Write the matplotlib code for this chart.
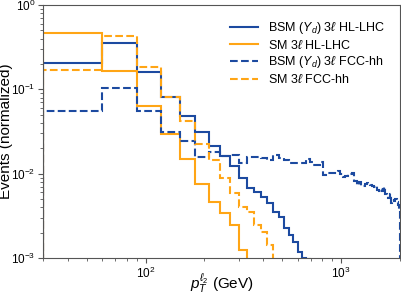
import numpy as np
import matplotlib
matplotlib.use('Agg')
import matplotlib.pyplot as plt

plt.rcParams['font.family'] = ['Liberation Sans', 'DejaVu Sans']
plt.rcParams['mathtext.fontset'] = 'custom'
plt.rcParams['mathtext.rm'] = 'Liberation Sans'
plt.rcParams['mathtext.it'] = 'Liberation Sans:italic'
plt.rcParams['mathtext.bf'] = 'Liberation Sans:bold'

# bins of 30 GeV starting at 30 GeV
bin_lo = 30
bin_w = 30
n_bins = 66

# normalised event fractions per bin
bsm_hllhc = [0.203, 0.351, 0.162, 0.082, 0.0483, 0.0315, 0.0213, 0.0162, 0.0123, 0.0090,
             0.0068, 0.0061, 0.0053, 0.00453, 0.00354, 0.00304, 0.00225, 0.00187, 0.00156, 0.00119,
             0.00101, 0.00099]
sm_hllhc = [0.46, 0.165, 0.0634, 0.0293, 0.0149, 0.00754, 0.00465, 0.00339, 0.00246, 0.00125]
sm_fcc = [0.169, 0.433, 0.186, 0.082, 0.042, 0.0227, 0.0145, 0.0088, 0.00585, 0.0040,
          0.00354, 0.00246, 0.00205, 0.00143]
bsm_fcc = [0.0553, 0.103, 0.0553, 0.031, 0.0244, 0.0157, 0.0182, 0.0162, 0.0166, 0.0135,
           0.0160, 0.0160, 0.0155, 0.0145, 0.0166, 0.0152, 0.0146, 0.0135, 0.0133, 0.0133,
           0.0133, 0.0148, 0.0139, 0.0127, 0.0127, 0.0139, 0.0096, 0.0103, 0.0103, 0.0101,
           0.0103, 0.0108, 0.0100, 0.0092, 0.0094, 0.0099, 0.0099, 0.0102, 0.0082, 0.0074,
           0.0080, 0.0072, 0.0071, 0.0076, 0.0077, 0.0075, 0.0073, 0.0071, 0.0070, 0.0072,
           0.0065, 0.0062, 0.0066, 0.0063, 0.0069, 0.0058, 0.0055, 0.0051, 0.0057, 0.0045,
           0.0049, 0.0047, 0.0050, 0.0046, 0.0043, 0.0038]

edges = bin_lo + bin_w * np.arange(n_bins + 1)


def pad(vals):
    out = np.zeros(n_bins)
    out[:len(vals)] = vals
    return np.clip(out, 1e-6, None)


blue = '#1c4aa0'
orange = '#ffa515'

fig = plt.figure(figsize=(4.01, 2.94), dpi=100)
ax = fig.add_axes([0.108, 0.122, 0.8895, 0.861])

ax.stairs(pad(bsm_hllhc), edges, color=blue, lw=1.5, label=r'BSM $(Y_d)$ 3$\ell$ HL-LHC')
ax.stairs(pad(sm_hllhc), edges, color=orange, lw=1.5, label=r'SM 3$\ell$ HL-LHC')
ax.stairs(pad(bsm_fcc), edges, color=blue, lw=1.5, ls='--', label=r'BSM $(Y_d)$ 3$\ell$ FCC-hh')
ax.stairs(pad(sm_fcc), edges, color=orange, lw=1.5, ls='--', label=r'SM 3$\ell$ FCC-hh')

ax.set_xscale('log')
ax.set_yscale('log')
ax.set_xlim(30, 2000)
ax.set_ylim(1e-3, 1)

ax.set_xlabel(r'$p_T^{\ell_2}$ (GeV)', fontsize=11)
ax.set_ylabel('Events (normalized)', fontsize=11)
ax.xaxis.set_label_coords(0.5, -0.058)
ax.yaxis.set_label_coords(-0.104, 0.5)
ax.yaxis.label.set_va('center')
ax.tick_params(labelsize=8.5, color='#555555', pad=2)
ax.tick_params(which='minor', color='#555555')
for s in ax.spines.values():
    s.set_color('#555555')

ax.legend(loc='upper right', frameon=False, fontsize=9, handlelength=2.2,
          labelspacing=0.22, borderaxespad=0.8)

fig.savefig('out.png', dpi=100)
